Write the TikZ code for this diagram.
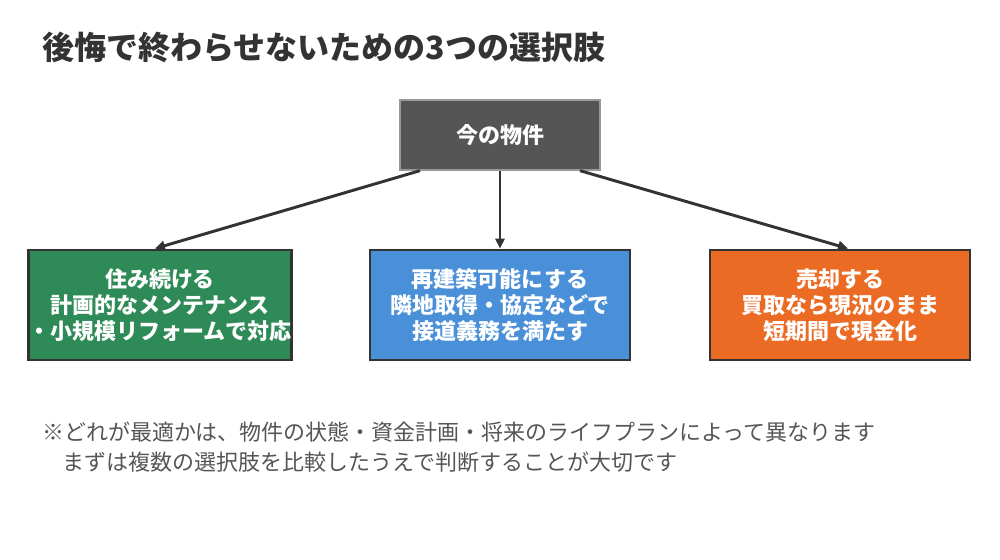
\documentclass[tikz,border=0pt]{standalone}
\usepackage{fontspec}
\setmainfont{Noto Sans CJK JP}
\usepackage{tikz}
\usetikzlibrary{positioning, calc, arrows.meta}
\definecolor{clrTop}{HTML}{555555}
\definecolor{clrKeep}{HTML}{2E8B57}
\definecolor{clrRebuild}{HTML}{4A90D9}
\definecolor{clrSell}{HTML}{EB6A24}
\definecolor{clrLine}{HTML}{333333}
\definecolor{clrNote}{HTML}{555555}

\begin{document}
\begin{tikzpicture}[x=0.75pt, y=0.75pt,
    topbox/.style = {draw=gray!80, line width=1pt, fill=clrTop, text=white,
                     minimum width=150pt, minimum height=52.5pt,
                     font=\fontsize{16.5pt}{19.5pt}\selectfont\bfseries},
    choice/.style = {draw=clrLine, line width=2.2pt, text=white, align=center,
                     minimum width=195pt, minimum height=82.5pt, inner sep=0pt,
                     font=\fontsize{16.5pt}{19.5pt}\selectfont\bfseries},
    conn/.style = {draw=clrLine, line width=2.2pt, -{Triangle[length=7.5pt, width=7pt]}}]
                \useasboundingbox (0,0) rectangle (1000,560);

                % title
                \node [anchor=west, text=clrLine, font=\fontsize{24pt}{28pt}\selectfont\bfseries, inner sep=0pt] (title) at (42,513) {後悔で終わらせないための3つの選択肢};

                \node [topbox] (top) at (500,425) {今の物件};

                \node [choice, fill=clrKeep] (keep) at (160,255) {住み続ける\\計画的なメンテナンス\\・小規模リフォームで対応};
                \node [choice, fill=clrRebuild] (rebuild) at (500,255) {再建築可能にする\\隣地取得・協定などで\\接道義務を満たす};
                \node [choice, fill=clrSell] (sell) at (840,255) {売却する\\買取なら現況のまま\\短期間で現金化};

                \foreach \n/\dx/\ex in {keep/-80/-5, rebuild/0/0, sell/80/8}{
                  \draw [conn] ($(top.south)+(\dx,0)$) -- ($(\n.north)+(\ex,0)$);
                }

                % note
                \node [anchor=west, text=clrNote, font=\fontsize{16.5pt}{20pt}\selectfont, inner sep=0pt] (note1) at (42,128) {※どれが最適かは、物件の状態・資金計画・将来のライフプランによって異なります};
                \node [anchor=west, text=clrNote, font=\fontsize{16.5pt}{20pt}\selectfont, inner sep=0pt] (note2) at (62,98) {まずは複数の選択肢を比較したうえで判断することが大切です};
            \end{tikzpicture}
\end{document}
